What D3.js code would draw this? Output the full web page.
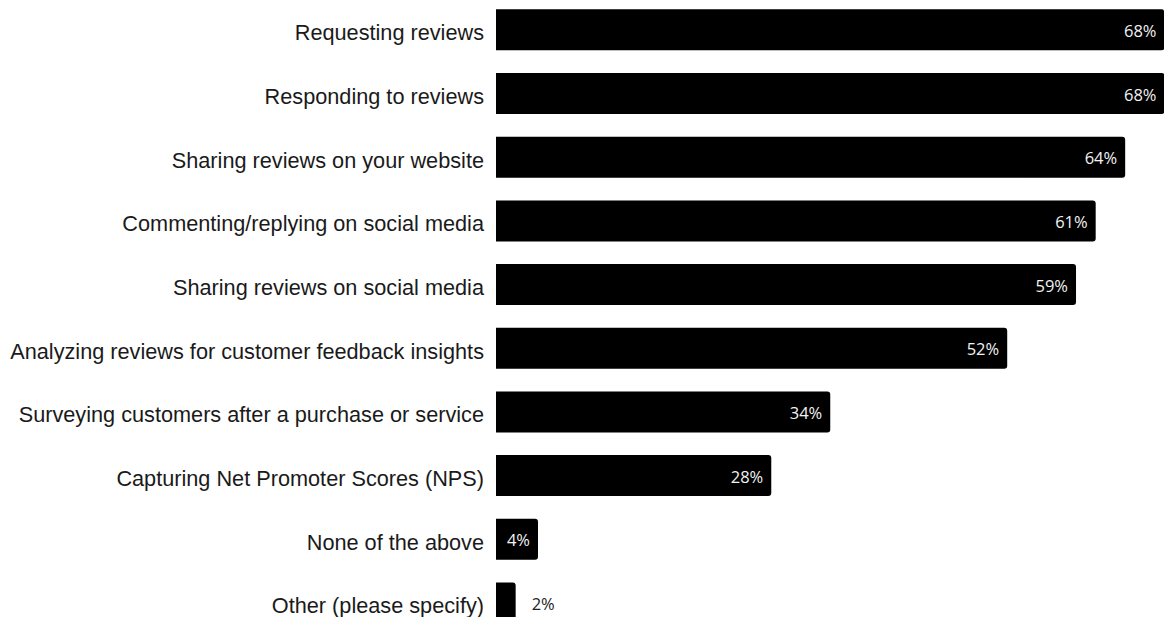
<!DOCTYPE html>
<html>
<head>
<meta charset="utf-8">
<script src="https://cdn.jsdelivr.net/npm/d3@7"></script>
<style>
  html, body { margin: 0; padding: 0; background: #fff; }
  svg { display: block; }
</style>
</head>
<body>
<svg id="chart" width="1164" height="617"></svg>
<script>
// Survey answers and their share of respondents (%)
const categories = [
  "Requesting reviews",
  "Responding to reviews",
  "Sharing reviews on your website",
  "Commenting/replying on social media",
  "Sharing reviews on social media",
  "Analyzing reviews for customer feedback insights",
  "Surveying customers after a purchase or service",
  "Capturing Net Promoter Scores (NPS)",
  "None of the above",
  "Other (please specify)"
];
const values = [68, 68, 64, 61, 59, 52, 34, 28, 4, 2];

const W = 1164, H = 617;
const svg = d3.select("#chart");

const x = d3.scaleLinear().domain([0, 68]).range([496, 1164.5]);
const y = d3.scaleBand()
  .domain(categories)
  .range([-2, 634.8])
  .paddingInner(0.356)
  .paddingOuter(0.178);

const data = categories.map((c, i) => ({ cat: c, val: values[i] }));
const minBar = 42; // smallest bar that can hold its label inside

function barWidth(d) {
  const w = x(d.val) - x(0);
  return (d.val >= 4 && w < minBar) ? minBar : w;
}

// bar shape: square on the left, rounded on the right
function barPath(d) {
  const x0 = x(0), y0 = y(d.cat), h = y.bandwidth();
  const w = barWidth(d);
  const r = Math.min(3, w / 2);
  return `M${x0},${y0}H${x0 + w - r}Q${x0 + w},${y0} ${x0 + w},${y0 + r}` +
         `V${y0 + h - r}Q${x0 + w},${y0 + h} ${x0 + w - r},${y0 + h}H${x0}Z`;
}

svg.append("g").selectAll("path")
  .data(data)
  .join("path")
  .attr("d", barPath)
  .attr("fill", "#000");

// category labels
svg.append("g").selectAll("text")
  .data(data)
  .join("text")
  .attr("x", 484)
  .attr("y", d => y(d.cat) + y.bandwidth() / 2 + 10.5)
  .attr("text-anchor", "end")
  .attr("font-family", "'Liberation Sans', Arial, sans-serif")
  .attr("font-size", "21.7px")
  .attr("fill", "#1a1a1a")
  .text(d => d.cat);

// value labels: inside the bar when it fits, otherwise just past its end
svg.append("g").selectAll("text")
  .data(data)
  .join("text")
  .each(function (d) {
    const end = x(0) + barWidth(d);
    const inside = barWidth(d) >= 30;
    d3.select(this)
      .attr("x", inside ? Math.min(end - 8, 1162) : end + 16)
      .attr("text-anchor", inside ? "end" : "start")
      .attr("fill", inside ? "#f2f2f2" : "#222");
  })
  .attr("y", d => y(d.cat) + y.bandwidth() / 2 + 7)
  .attr("font-family", "'Open Sans', sans-serif")
  .attr("font-size", "16.5px")
  .text(d => d.val + "%");
</script>
</body>
</html>
